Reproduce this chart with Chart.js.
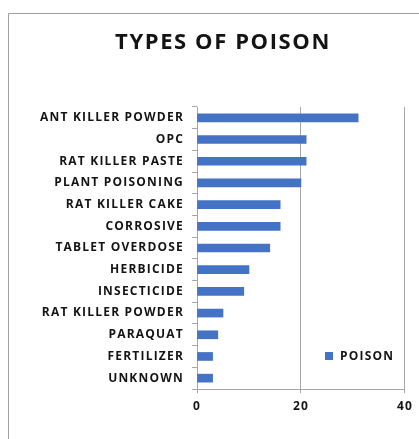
<!DOCTYPE html>
<html>
<head>
<meta charset="utf-8">
<script src="https://cdn.jsdelivr.net/npm/chart.js@4/dist/chart.umd.min.js"></script>
<style>
  html, body { margin: 0; padding: 0; background: #ffffff; }
  #wrap { position: relative; width: 419px; height: 439px; }
</style>
</head>
<body>
<div id="wrap"><canvas id="c" width="419" height="439"></canvas></div>
<script>
const categories = [
  "ANT KILLER POWDER", "OPC", "RAT KILLER PASTE", "PLANT POISONING",
  "RAT KILLER CAKE", "CORROSIVE", "TABLET OVERDOSE", "HERBICIDE",
  "INSECTICIDE", "RAT KILLER POWDER", "PARAQUAT", "FERTILIZER", "UNKNOWN"
];
const poisonCounts = [31, 21, 21, 20, 16, 16, 14, 10, 9, 5, 4, 3, 3];
const seriesName = "POISON";
const chartTitle = "TYPES OF POISON";
const xTicks = [0, 20, 40];

const FONT = "'Open Sans', 'DejaVu Sans', sans-serif";
const BAR_BLUE = "#4472C4";
const GRID_GREY = "#a6a6a6";
const TEXT = "#141414";
const LABEL_SPACING = "1.2px";
const LABEL_SIZE = 12;

// wide lettering for the axis labels (canvas state is reset on resize,
// so it is applied again before every layout and draw pass)
const spacingPlugin = {
  id: "spacing",
  beforeUpdate(chart) { chart.ctx.letterSpacing = LABEL_SPACING; },
  beforeLayout(chart) { chart.ctx.letterSpacing = LABEL_SPACING; },
  beforeDraw(chart) { chart.ctx.letterSpacing = LABEL_SPACING; }
};

// outer frame, title and the series key drawn inside the plot
const decorPlugin = {
  id: "decor",
  afterDraw(chart) {
    const ctx = chart.ctx;
    ctx.save();
    ctx.strokeStyle = "#a0a0a0";
    ctx.lineWidth = 1;
    ctx.beginPath();
    ctx.moveTo(8.5, 439);
    ctx.lineTo(8.5, 13.5);
    ctx.lineTo(419, 13.5);
    ctx.stroke();

    ctx.fillStyle = TEXT;
    ctx.letterSpacing = "1.6px";
    ctx.font = "bold 22px " + FONT;
    ctx.textBaseline = "middle";
    ctx.textAlign = "center";
    ctx.fillText(chartTitle, 223, 43);

    const ds = chart.data.datasets[0];
    ctx.fillStyle = ds.backgroundColor;
    ctx.fillRect(325, 352, 8, 8);
    ctx.fillStyle = TEXT;
    ctx.letterSpacing = LABEL_SPACING;
    ctx.font = "bold " + LABEL_SIZE + "px " + FONT;
    ctx.textAlign = "left";
    ctx.fillText(ds.label, 340, 356.5);
    ctx.restore();
  }
};

new Chart(document.getElementById("c"), {
  type: "bar",
  data: {
    labels: categories,
    datasets: [{
      label: seriesName,
      data: poisonCounts,
      backgroundColor: BAR_BLUE,
      borderWidth: 0,
      barThickness: 8
    }]
  },
  options: {
    indexAxis: "y",
    responsive: false,
    animation: false,
    layout: { padding: { left: 0, right: 14, top: 107, bottom: 0 } },
    plugins: {
      legend: { display: false },
      tooltip: { enabled: false },
      title: { display: false }
    },
    scales: {
      x: {
        min: 0,
        max: 40,
        afterBuildTicks(scale) { scale.ticks = xTicks.map(v => ({ value: v })); },
        afterFit(scale) { scale.height = 50; },
        grid: {
          color: GRID_GREY,
          lineWidth: 1,
          drawTicks: true,
          tickLength: 4,
          tickColor: GRID_GREY
        },
        border: { display: true, color: GRID_GREY },
        ticks: {
          color: TEXT,
          font: { family: FONT, size: LABEL_SIZE, weight: "bold" },
          padding: 6,
          maxRotation: 0
        }
      },
      y: {
        afterFit(scale) { scale.width = 197; },
        grid: {
          display: true,
          drawOnChartArea: false,
          drawTicks: true,
          tickLength: 5,
          tickColor: GRID_GREY,
          offset: true
        },
        border: { display: true, color: GRID_GREY },
        ticks: {
          color: TEXT,
          font: { family: FONT, size: LABEL_SIZE, weight: "bold" },
          padding: 8
        }
      }
    }
  },
  plugins: [spacingPlugin, decorPlugin]
});
</script>
</body>
</html>
